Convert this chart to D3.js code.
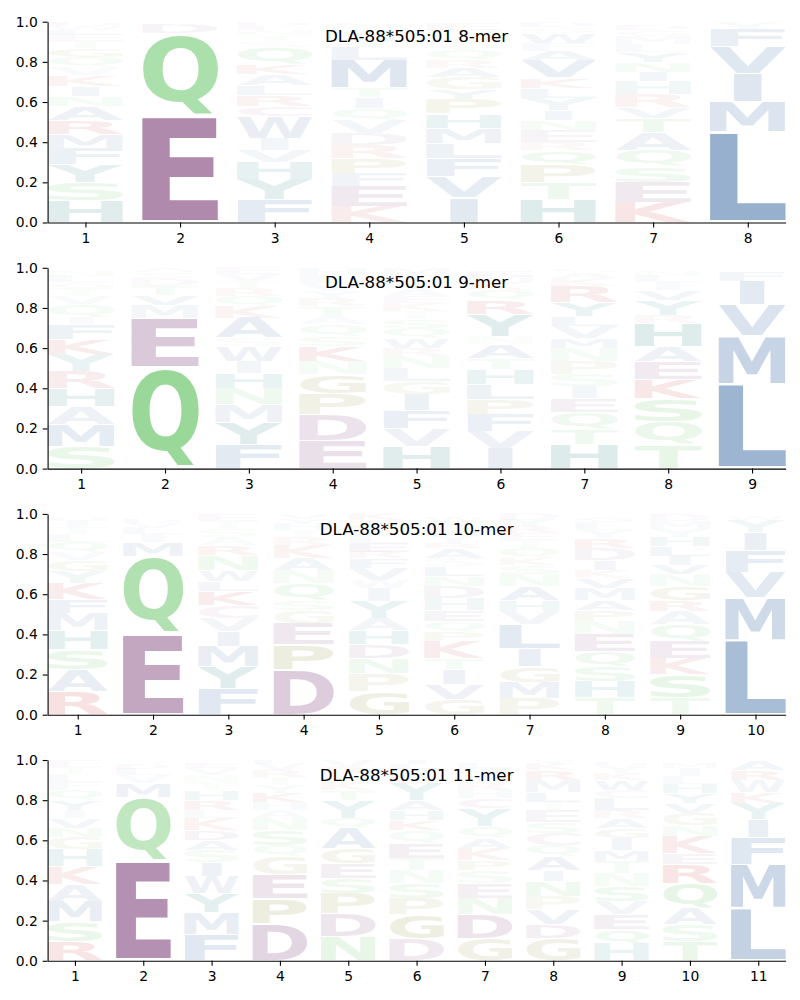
<!DOCTYPE html>
<html lang="en">
<head>
<meta charset="UTF-8">
<title>DLA-88*505:01 binding motifs</title>
<script src="https://d3js.org/d3.v7.min.js"></script>
<style>
    body { margin: 0; background: #ffffff; }
    svg { display: block; }
    .title { font-family: "DejaVu Sans", sans-serif; font-size: 16.7px; fill: #000; }
</style>
</head>
<body>
<svg id="chart" width="800" height="1000"></svg>
<script>
// each column: letters from bottom to top with their stacked height
const mer8 = [
    [["H",.11],["S",.09],["Y",.09],["F",.08],["M",.07],["R",.07],["A",.07],["N",.05],["I",.05],["K",.055],["V",.04],["Q",.05],["G",.045],["T",.035],["E",.03],["L",.025],["W",.02],["D",.02]],
    [["E",.53],["Q",.415],["D",.045],["N",.01]],
    [["F",.115],["Y",.10],["H",.085],["V",.06],["I",.06],["W",.11],["C",.05],["R",.055],["L",.05],["A",.055],["K",.05],["Q",.085],["S",.03],["T",.03],["N",.025],["E",.02],["D",.02]],
    [["K",.08],["E",.10],["F",.065],["P",.075],["R",.065],["D",.06],["V",.065],["Q",.06],["I",.055],["T",.045],["M",.14],["L",.065],["Y",.03],["A",.03],["S",.025],["N",.02],["G",.02]],
    [["I",.125],["V",.105],["F",.09],["L",.075],["M",.075],["H",.07],["P",.075],["Y",.045],["G",.065],["A",.045],["R",.04],["Q",.05],["T",.04],["W",.03],["N",.03],["E",.03],["S",.01]],
    [["H",.115],["T",.085],["P",.09],["Q",.07],["R",.04],["E",.06],["N",.05],["I",.05],["Y",.06],["L",.05],["K",.05],["V",.09],["A",.045],["F",.04],["W",.05],["S",.03],["D",.025]],
    [["K",.10],["E",.10],["S",.08],["Q",.08],["A",.09],["T",.07],["V",.055],["R",.065],["H",.065],["I",.045],["N",.05],["Y",.05],["L",.04],["M",.04],["G",.03],["D",.025],["F",.015]],
    [["L",.45],["M",.15],["I",.14],["V",.135],["F",.09],["Y",.03]]
];

const mer9 = [
    [["S",.11],["M",.11],["A",.09],["H",.09],["R",.085],["Y",.085],["K",.075],["F",.075],["I",.035],["Q",.065],["V",.04],["T",.04],["G",.03],["L",.03],["N",.025],["E",.015]],
    [["Q",.505],["E",.245],["M",.065],["V",.05],["T",.045],["D",.04],["S",.03],["A",.02]],
    [["F",.12],["Y",.11],["M",.09],["N",.08],["H",.075],["I",.06],["W",.075],["S",.04],["A",.10],["K",.06],["Q",.05],["R",.04],["T",.035],["V",.035],["E",.03]],
    [["E",.14],["D",.13],["P",.105],["G",.095],["N",.065],["K",.075],["S",.05],["Q",.06],["A",.04],["T",.05],["R",.04],["Y",.035],["V",.04],["L",.04],["H",.035]],
    [["H",.11],["V",.09],["F",.09],["I",.08],["G",.065],["L",.065],["N",.06],["R",.04],["W",.05],["Q",.05],["S",.045],["T",.04],["K",.04],["E",.035],["A",.035],["Y",.04],["D",.03],["M",.03]],
    [["I",.10],["V",.085],["F",.085],["P",.075],["L",.075],["H",.075],["T",.055],["A",.07],["N",.04],["Y",.11],["R",.07],["Q",.05],["K",.04],["M",.03],["E",.025],["S",.015]],
    [["H",.12],["T",.075],["Q",.085],["E",.07],["I",.06],["S",.06],["P",.065],["N",.065],["M",.05],["V",.06],["L",.05],["Y",.07],["R",.08],["K",.04],["A",.03],["G",.02]],
    [["T",.12],["Q",.115],["S",.115],["K",.095],["E",.09],["A",.075],["H",.115],["R",.04],["Y",.075],["V",.05],["I",.04],["L",.03],["N",.025],["M",.015]],
    [["L",.42],["M",.24],["V",.155],["I",.12],["F",.05]]
];

const mer10 = [
    [["R",.115],["A",.11],["S",.10],["H",.095],["M",.085],["F",.07],["K",.08],["Y",.06],["G",.055],["V",.04],["Q",.05],["L",.04],["T",.035],["I",.03],["N",.02],["E",.015]],
    [["E",.405],["Q",.385],["M",.07],["I",.04],["L",.03],["V",.025],["D",.02],["S",.015]],
    [["F",.13],["Y",.11],["M",.10],["I",.075],["V",.065],["C",.065],["K",.07],["L",.05],["W",.055],["N",.075],["R",.05],["A",.04],["S",.04],["T",.04],["E",.035]],
    [["D",.225],["P",.125],["E",.105],["G",.065],["S",.05],["Q",.085],["N",.065],["A",.06],["K",.065],["R",.04],["T",.035],["H",.03],["Y",.025],["V",.025]],
    [["G",.115],["P",.09],["N",.075],["D",.07],["H",.07],["A",.06],["Y",.085],["I",.065],["W",.04],["V",.06],["F",.05],["R",.03],["E",.045],["L",.04],["T",.04],["S",.035],["K",.03]],
    [["G",.075],["V",.075],["I",.075],["T",.055],["K",.085],["P",.05],["Q",.05],["E",.055],["H",.06],["D",.06],["N",.05],["L",.05],["S",.04],["A",.05],["R",.025],["Y",.04],["M",.035],["F",.03],["W",.025],["C",.015]],
    [["P",.08],["M",.08],["G",.08],["I",.09],["L",.12],["V",.065],["H",.055],["A",.07],["N",.06],["S",.045],["K",.035],["Q",.05],["T",.04],["E",.035],["R",.035],["Y",.03],["D",.03]],
    [["T",.085],["H",.08],["S",.075],["Q",.075],["E",.085],["N",.065],["P",.055],["A",.05],["M",.06],["V",.05],["K",.04],["I",.05],["D",.06],["R",.05],["Y",.04],["L",.04],["G",.03],["F",.01]],
    [["T",.085],["S",.115],["K",.08],["E",.085],["Q",.085],["A",.065],["R",.055],["G",.07],["N",.06],["V",.045],["I",.045],["L",.05],["H",.045],["Y",.04],["M",.04],["D",.035]],
    [["L",.373],["M",.21],["V",.127],["F",.11],["I",.09],["Y",.06],["W",.02]]
];

const mer11 = [
    [["R",.095],["S",.10],["M",.10],["A",.085],["K",.09],["H",.085],["G",.06],["N",.045],["V",.05],["I",.04],["Y",.05],["Q",.05],["F",.04],["L",.04],["T",.035],["E",.035]],
    [["E",.50],["Q",.315],["M",.07],["V",.04],["L",.03],["D",.025],["S",.02]],
    [["F",.13],["M",.11],["Y",.095],["W",.085],["I",.07],["S",.06],["A",.05],["D",.05],["K",.06],["L",.04],["R",.05],["H",.05],["T",.04],["N",.035],["V",.035],["E",.025],["Q",.015]],
    [["D",.185],["P",.125],["E",.12],["G",.09],["Q",.055],["S",.075],["N",.06],["A",.04],["H",.04],["K",.045],["Y",.04],["T",.04],["R",.035],["V",.03],["L",.02]],
    [["N",.12],["D",.115],["P",.10],["S",.075],["E",.075],["G",.075],["A",.10],["Q",.05],["Y",.09],["T",.05],["K",.04],["H",.04],["R",.035],["V",.035]],
    [["D",.11],["G",.12],["P",.08],["S",.075],["N",.065],["T",.06],["E",.075],["Q",.065],["K",.05],["H",.05],["A",.05],["Y",.085],["R",.04],["V",.03],["L",.025],["I",.02]],
    [["G",.11],["D",.12],["N",.08],["E",.075],["S",.065],["P",.05],["K",.06],["A",.05],["Q",.06],["Y",.09],["C",.05],["H",.04],["R",.04],["T",.035],["V",.035],["L",.025],["I",.015]],
    [["G",.11],["D",.07],["V",.075],["P",.065],["N",.075],["I",.055],["A",.07],["Q",.055],["C",.06],["S",.055],["E",.06],["T",.04],["L",.05],["M",.06],["R",.05],["K",.03],["Y",.02]],
    [["H",.085],["Q",.07],["E",.075],["V",.065],["S",.075],["N",.065],["T",.06],["M",.055],["I",.06],["G",.05],["A",.05],["R",.04],["L",.06],["C",.04],["W",.05],["K",.035],["Y",.035],["D",.02]],
    [["T",.095],["S",.085],["A",.08],["Q",.125],["R",.095],["E",.055],["K",.085],["N",.055],["G",.06],["V",.05],["Y",.05],["H",.045],["L",.04],["I",.04],["M",.025],["D",.015]],
    [["L",.26],["M",.22],["F",.135],["I",.09],["Y",.08],["K",.055],["W",.06],["R",.05],["A",.05]]
];

const titles = ["DLA-88*505:01 8-mer", "DLA-88*505:01 9-mer", "DLA-88*505:01 10-mer", "DLA-88*505:01 11-mer"];
const yTicks = [0, 0.2, 0.4, 0.6, 0.8, 1.0];

// amino acid colours by chemistry
const blue = "#4c77ab", teal = "#288282", green = "#64c364", olive = "#969640",
      red = "#c83737", purple = "#8c5588", pink = "#b05a96";
const aaColor = {
    A: blue, V: blue, L: blue, I: blue, M: blue, F: blue, W: blue,
    H: teal, Y: teal,
    S: green, T: green, N: green, Q: green,
    P: olive, G: olive,
    K: red, R: red,
    D: purple, E: purple,
    C: pink
};

const svg = d3.select("#chart");
const panelTop = 21.7, panelStep = 246.1, panelH = 200.8;
const xLeft = 47.6, xRight = 785.6;
const fontFamily = "DejaVu Sans";

// glyph ink bounds, so letters can be stretched to fill their box
const ctx = document.createElement("canvas").getContext("2d");
ctx.font = `bold 100px '${fontFamily}'`;
const inkCache = {};
function ink(ch) {
    if (!inkCache[ch]) {
        const m = ctx.measureText(ch);
        inkCache[ch] = { l: m.actualBoundingBoxLeft, r: m.actualBoundingBoxRight,
                         a: m.actualBoundingBoxAscent, d: m.actualBoundingBoxDescent };
    }
    return inkCache[ch];
}
// narrow letters are never stretched wider than an "E" would be
const refInk = ink("E");
const refWidth = refInk.l + refInk.r;

[mer8, mer9, mer10, mer11].forEach((cols, i) => {
    const top = panelTop + i * panelStep;
    const n = cols.length;
    const x = d3.scaleLinear().domain([0.6, n + 0.4]).range([xLeft, xRight]);
    const y = d3.scaleLinear().domain([0, 1]).range([top + panelH, top]);

    const glyphs = [];
    cols.forEach((col, j) => {
        let base = 0;
        col.forEach(([ch, h]) => {
            glyphs.push({ pos: j + 1, ch: ch, y0: base, y1: base + h, h: h });
            base += h;
        });
    });

    const g = svg.append("g");

    g.selectAll("text.glyph")
        .data(glyphs)
        .join("text")
        .attr("class", "glyph")
        .attr("font-family", fontFamily)
        .attr("font-weight", "bold")
        .attr("font-size", 100)
        .attr("fill", d => aaColor[d.ch])
        .attr("fill-opacity", d => Math.min(0.9, d.h * 1.3))
        .attr("transform", d => {
            const m = ink(d.ch);
            const pad = d.h * 0.025;
            const x0 = x(d.pos - 0.4), x1 = x(d.pos + 0.4);
            const yt = y(d.y1 - pad), yb = y(d.y0 + pad);
            const inkW = m.l + m.r;
            const sx = Math.min((x1 - x0) / inkW, (x1 - x0) / refWidth);
            const sy = (yb - yt) / (m.a + m.d);
            const left = (x0 + x1) / 2 - inkW * sx / 2;
            return `translate(${left + m.l * sx},${yt + m.a * sy}) scale(${sx},${sy})`;
        })
        .text(d => d.ch);

    const yAxis = d3.axisLeft(y).tickValues(yTicks).tickFormat(d3.format(".1f"))
        .tickSize(4.9).tickPadding(4.9).tickSizeOuter(0);
    const xAxis = d3.axisBottom(x).tickValues(d3.range(1, n + 1)).tickFormat(d3.format("d"))
        .tickSize(4.9).tickPadding(4.9).tickSizeOuter(0);

    const ya = g.append("g").attr("transform", `translate(${xLeft},0)`).call(yAxis);
    const xa = g.append("g").attr("transform", `translate(0,${top + panelH})`).call(xAxis);
    [ya, xa].forEach(a => {
        a.attr("font-family", fontFamily).attr("font-size", 13.9);
        a.selectAll("path, line").attr("stroke", "#000").attr("stroke-width", 1.1);
        a.selectAll("text").attr("fill", "#000");
    });
    xa.selectAll("text").attr("dy", "0.76em");

    g.append("text")
        .attr("class", "title")
        .attr("x", (xLeft + xRight) / 2)
        .attr("y", top + 20.6)
        .attr("text-anchor", "middle")
        .text(titles[i]);
});
</script>
</body>
</html>
